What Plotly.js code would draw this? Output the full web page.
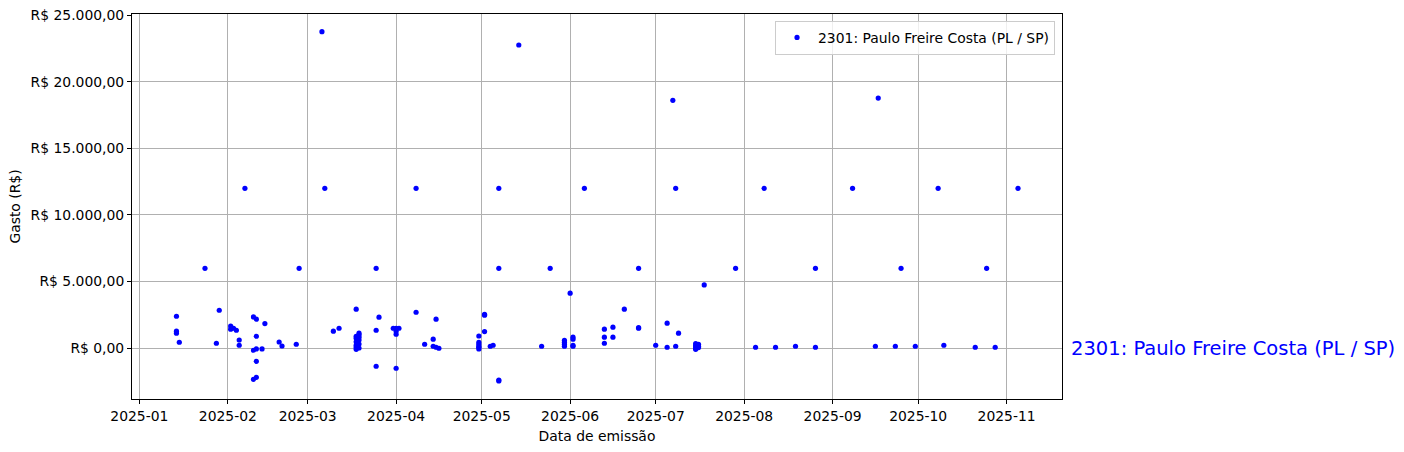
<!DOCTYPE html>
<html>
<head>
<meta charset="utf-8">
<script src="https://cdn.plot.ly/plotly-3.0.1.min.js"></script>
<style>html,body{margin:0;padding:0;background:#fff;}#chart{width:1404px;height:452px;}</style>
</head>
<body>
<div id="chart"></div>
<script>
const seriesName = "2301: Paulo Freire Costa (PL / SP)";
const dates = [
  "2025-01-14","2025-01-14","2025-01-14","2025-01-15","2025-01-24","2025-01-28","2025-01-29",
  "2025-02-02","2025-02-02","2025-02-03","2025-02-04","2025-02-05","2025-02-05","2025-02-07",
  "2025-02-10","2025-02-11","2025-02-14","2025-02-11","2025-02-10","2025-02-11","2025-02-13",
  "2025-02-11","2025-02-10","2025-02-11","2025-02-19","2025-02-20","2025-02-25","2025-02-26",
  "2025-03-06","2025-03-07","2025-03-10","2025-03-12",
  "2025-03-18","2025-03-18","2025-03-18","2025-03-18","2025-03-18","2025-03-18","2025-03-18",
  "2025-03-19","2025-03-19","2025-03-19","2025-03-19","2025-03-19","2025-03-19",
  "2025-03-26","2025-03-25","2025-03-25","2025-03-25","2025-03-31","2025-04-01","2025-04-02",
  "2025-04-01","2025-04-01","2025-04-01","2025-04-08","2025-04-08","2025-04-11","2025-04-14",
  "2025-04-15","2025-04-14","2025-04-15","2025-04-16",
  "2025-05-02","2025-05-02","2025-05-02","2025-04-30","2025-04-30","2025-04-30","2025-04-30",
  "2025-04-30","2025-04-30","2025-05-04","2025-05-05","2025-05-07","2025-05-07","2025-05-07",
  "2025-05-07","2025-05-14","2025-05-22","2025-05-25",
  "2025-05-30","2025-05-30","2025-05-30","2025-05-30","2025-06-02","2025-06-02","2025-06-02",
  "2025-06-02","2025-06-01","2025-06-06","2025-06-13","2025-06-13","2025-06-13","2025-06-16",
  "2025-06-16","2025-06-20","2025-06-25","2025-06-25","2025-06-25","2025-07-01","2025-07-05",
  "2025-07-05","2025-07-07","2025-07-08","2025-07-08","2025-07-09",
  "2025-07-15","2025-07-15","2025-07-15","2025-07-15","2025-07-15","2025-07-16","2025-07-16",
  "2025-07-16","2025-07-18","2025-07-29","2025-08-05","2025-08-08","2025-08-12","2025-08-19",
  "2025-08-26","2025-08-26","2025-09-08","2025-09-16","2025-09-17","2025-09-23","2025-09-25",
  "2025-09-30","2025-10-08","2025-10-10","2025-10-21","2025-10-25","2025-10-28","2025-11-05"
];
const values = [
  2400,1280,1130,450,6000,375,2850,
  1670,1430,1500,1350,620,225,12000,
  2350,2180,1850,900,-150,-50,-50,
  -980,-2330,-2180,470,170,300,6000,
  23750,12000,1280,1500,
  2930,900,760,480,230,80,-80,
  1130,1000,820,620,320,20,
  2330,6000,1350,-1350,1500,1500,1500,
  1280,1050,-1500,12000,2700,300,680,
  2180,150,75,0,
  2550,2480,1250,920,450,300,150,
  50,-50,150,225,6000,12000,-2380,
  -2450,22750,150,6000,
  600,450,300,150,830,680,225,
  150,4130,12000,1430,830,375,1580,
  830,2930,6000,1500,1550,225,1880,
  75,18600,12000,150,1130,
  350,200,100,0,-80,300,150,
  50,4750,6000,75,12000,75,150,
  6000,75,12000,150,18770,150,6000,
  150,12000,225,75,6000,75,12000
];
const yTickVals = [0, 5000, 10000, 15000, 20000, 25000];
const yTickText = ["R$ 0,00","R$ 5.000,00","R$ 10.000,00","R$ 15.000,00","R$ 20.000,00","R$ 25.000,00"];
const xTickVals = ["2025-01-01","2025-02-01","2025-03-01","2025-04-01","2025-05-01","2025-06-01","2025-07-01","2025-08-01","2025-09-01","2025-10-01","2025-11-01"];
const xTickText = ["2025-01","2025-02","2025-03","2025-04","2025-05","2025-06","2025-07","2025-08","2025-09","2025-10","2025-11"];

const font = "DejaVu Sans, sans-serif";
const fs = 13.9;
const trace = {
  x: dates, y: values, type: "scatter", mode: "markers", name: seriesName,
  marker: {color: "#0000ff", size: 5.2, line: {width: 0}},
  cliponaxis: false
};
const layout = {
  width: 1404, height: 452,
  margin: {l: 132, r: 342, t: 14, b: 53},
  paper_bgcolor: "#ffffff", plot_bgcolor: "#ffffff",
  font: {family: font, size: fs, color: "#000"},
  showlegend: true,
  legend: {x: 0.9925, xanchor: "right", y: 0.982, yanchor: "top",
    bgcolor: "rgba(255,255,255,0.8)", bordercolor: "#cccccc", borderwidth: 1,
    font: {family: font, size: fs}, itemwidth: 32},
  xaxis: {
    type: "date", range: ["2024-12-29 10:00", "2025-11-20 10:00"],
    tickmode: "array", tickvals: xTickVals, ticktext: xTickText,
    showgrid: true, gridcolor: "#b0b0b0", gridwidth: 1,
    showline: true, linecolor: "#000", linewidth: 1, mirror: true,
    ticks: "outside", ticklen: 4, tickcolor: "#000", zeroline: false,
    title: {text: "Data de emissão", font: {family: font, size: fs}, standoff: 8}
  },
  yaxis: {
    range: [-3806, 25075],
    tickmode: "array", tickvals: yTickVals, ticktext: yTickText,
    showgrid: true, gridcolor: "#b0b0b0", gridwidth: 1,
    showline: true, linecolor: "#000", linewidth: 1, mirror: true,
    ticks: "outside", ticklen: 4, tickcolor: "#000", zeroline: false,
    title: {text: "Gasto (R$)", font: {family: font, size: fs}, standoff: 6}
  },
  annotations: [{
    text: seriesName, xref: "paper", yref: "y", x: 1.0075, y: 0,
    xanchor: "left", yanchor: "middle", showarrow: false,
    font: {family: font, size: 19.5, color: "#0000ff"}
  }]
};
Plotly.newPlot("chart", [trace], layout, {displayModeBar: false, staticPlot: true});
</script>
</body>
</html>
